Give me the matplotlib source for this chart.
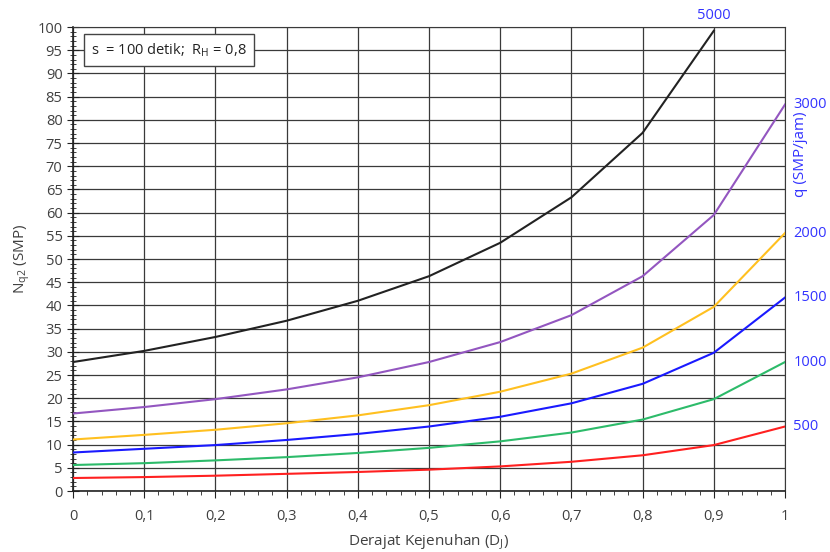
import matplotlib
matplotlib.use("Agg")
import matplotlib.pyplot as plt
from matplotlib.ticker import MultipleLocator, FuncFormatter

plt.rcParams['font.family'] = ['Open Sans', 'DejaVu Sans']

dj = [0.0, 0.1, 0.2, 0.3, 0.4, 0.5, 0.6, 0.7, 0.8, 0.9, 1.0]
q_labels = ["500", "1000", "1500", "2000", "3000", "5000"]
n_500 = [2.8, 3.0, 3.3, 3.7, 4.1, 4.6, 5.3, 6.3, 7.7, 9.9, 13.9]
n_1000 = [5.6, 6.0, 6.6, 7.3, 8.2, 9.3, 10.7, 12.6, 15.4, 19.8, 27.8]
n_1500 = [8.3, 9.1, 9.9, 11.0, 12.3, 13.9, 16.0, 18.9, 23.1, 29.8, 41.7]
n_2000 = [11.1, 12.1, 13.2, 14.6, 16.3, 18.5, 21.4, 25.3, 30.9, 39.7, 55.6]
n_3000 = [16.7, 18.1, 19.8, 21.9, 24.5, 27.8, 32.1, 37.9, 46.3, 59.5, 83.3]
n_5000 = [27.8, 30.2, 33.2, 36.7, 41.0, 46.3, 53.5, 63.3, 77.2, 99.2]
colors = ["#ff2020", "#2dbb6a", "#1a1aff", "#ffc020", "#9356c0", "#222222"]

series = [n_500, n_1000, n_1500, n_2000, n_3000, n_5000]

fig = plt.figure(figsize=(8.3, 5.52), dpi=100)
ax = fig.add_axes([0.088, 0.1105, 0.8578, 0.8405])

for vals, c in zip(series, colors):
    ax.plot(dj[:len(vals)], vals, color=c, lw=1.5, zorder=3)

ax.set_xlim(0, 1)
ax.set_ylim(0, 100)
ax.xaxis.set_major_locator(MultipleLocator(0.1))
ax.xaxis.set_minor_locator(MultipleLocator(0.02))
ax.yaxis.set_major_locator(MultipleLocator(5))
ax.yaxis.set_minor_locator(MultipleLocator(1))
ax.xaxis.set_major_formatter(FuncFormatter(lambda v, p: ("%g" % round(v, 1)).replace(".", ",")))
ax.grid(True, which='major', color='#3a3a3a', lw=0.9)
tc = '#404040'
ax.tick_params(axis='x', which='major', direction='out', length=5, colors='#222222', labelcolor=tc, labelsize=10.5, pad=8)
ax.tick_params(axis='x', which='minor', direction='out', length=3, colors='#222222')
ax.tick_params(axis='y', which='major', direction='inout', length=8, colors='#222222', labelcolor=tc, labelsize=10.5)
ax.tick_params(axis='y', which='minor', direction='inout', length=5, colors='#222222')
for s in ['top', 'right']:
    ax.spines[s].set_color('#3a3a3a')
for s in ['left', 'bottom']:
    ax.spines[s].set_color('#222222')
    ax.spines[s].set_linewidth(1.2)

ax.set_xlabel("Derajat Kejenuhan (D$_\\mathregular{J}$)", fontsize=11, color=tc, labelpad=6)
ax.set_ylabel("N$_\\mathregular{q2}$ (SMP)", fontsize=11, color=tc, labelpad=4)

blue = "#3333ff"
for vals, lab in zip(series[:-1], q_labels[:-1]):
    ax.annotate(lab, xy=(1.0, vals[-1]), xytext=(6, 0), textcoords='offset points',
                ha='left', va='center', color=blue, fontsize=10.5, annotation_clip=False)
ax.annotate(q_labels[-1], xy=(dj[len(n_5000) - 1], 100), xytext=(0, 3), textcoords='offset points',
            ha='center', va='bottom', color=blue, fontsize=10.5, annotation_clip=False)
fig.text(0.964, 0.72, "q (SMP/jam)", rotation=90, color=blue, fontsize=11, ha='center', va='center')

ax.text(0.025, 95, "s  = 100 detik;  R$_\\mathregular{H}$ = 0,8", fontsize=10.5, color='#222222',
        ha='left', va='center', zorder=5,
        bbox=dict(boxstyle='square,pad=0.5', fc='white', ec='#444444', lw=1))

fig.savefig("out.png", dpi=100, facecolor='white')
